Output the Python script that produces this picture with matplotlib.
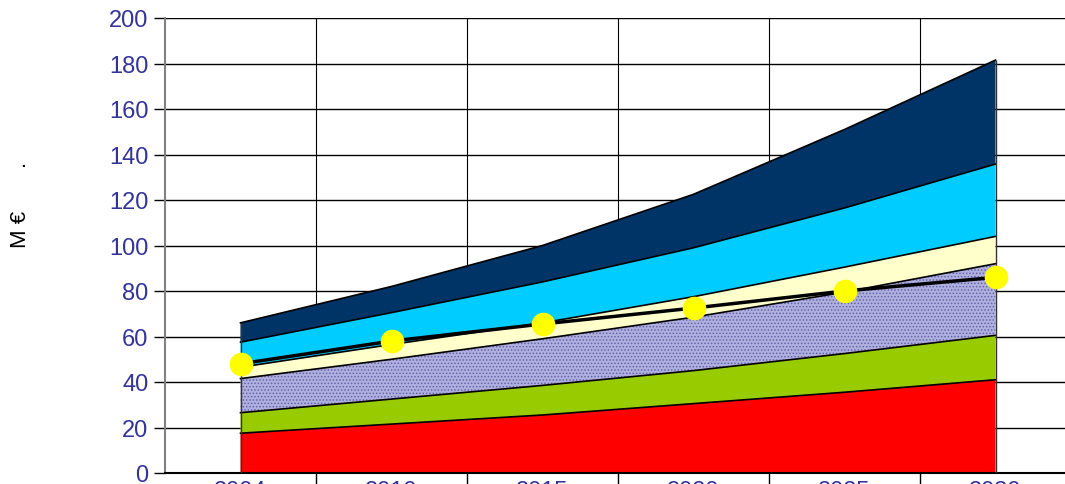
import numpy as np
import matplotlib.pyplot as plt
from matplotlib.ticker import FixedLocator

years = ["2004", "2010", "2015", "2020", "2025", "2030"]

# cumulative tops of each stacked layer (M €)
red_top = [17.5, 21.5, 25.5, 30.5, 35.5, 41]
green_top = [26.5, 32.5, 38.5, 45, 52.5, 60.5]
hatch_top = [41.5, 50, 59, 68.5, 79.5, 92]
cream_top = [46.5, 56.5, 66, 77.5, 90.5, 104]
cyan_top = [57.5, 70.5, 84, 99, 116.5, 135.8]
navy_top = [66, 82, 100, 122.5, 151, 181.5]

line_vals = [48, 58, 65.5, 72.5, 80, 86]

plt.rcParams['font.family'] = ['Liberation Sans', 'DejaVu Sans']
plt.rcParams['hatch.color'] = '#6464a4'
plt.rcParams['hatch.linewidth'] = 0.7
fig = plt.figure(figsize=(10.65, 4.85), dpi=100)
ax = fig.add_axes([165 / 1065, 11 / 485, 906 / 1065, 455 / 485])

x = np.arange(len(years))
layers = [
    (np.zeros(len(years)), red_top, '#ff0000', None),
    (red_top, green_top, '#99cc00', None),
    (green_top, hatch_top, '#b0b0e0', '.....'),
    (hatch_top, cream_top, '#ffffcc', None),
    (cream_top, cyan_top, '#00ccff', None),
    (cyan_top, navy_top, '#003366', None),
]
for lo, hi, col, hatch in layers:
    if hatch:
        ax.fill_between(x, lo, hi, facecolor=col, hatch=hatch, edgecolor='#6464a4', linewidth=0, zorder=2)
    else:
        ax.fill_between(x, lo, hi, facecolor=col, linewidth=0, zorder=2)
    ax.plot(x, hi, color='black', lw=1.2, zorder=3)
ax.vlines([x[0], x[-1]], 0, [navy_top[0], navy_top[-1]], color='#333333', lw=1, zorder=3)

ax.plot(x, line_vals, color='black', lw=2.5, zorder=4)
ax.plot(x, line_vals, 'o', color='#ffff00', ms=16, mec='#ffff00', zorder=5)

ax.set_xlim(-0.5, 5.5)
ax.set_ylim(0, 200)
ax.set_yticks(np.arange(0, 201, 20))
ax.yaxis.grid(True, color='black', lw=1)
ax.set_xticks(x)
ax.set_xticklabels(years)
ax.xaxis.set_minor_locator(FixedLocator(np.arange(0.5, 5.5, 1)))
ax.xaxis.grid(True, which='minor', color='black', lw=0.8)
ax.set_axisbelow(True)
ax.tick_params(axis='y', colors='black', labelcolor='#333399', labelsize=17, length=8, width=1, pad=4)
ax.tick_params(axis='x', which='major', length=0, labelsize=17, labelcolor='#333399', pad=5)
ax.tick_params(axis='x', which='minor', length=8, width=1, color='black')
for s in ['top', 'right']:
    ax.spines[s].set_visible(False)
ax.spines['left'].set_color('#808080')
ax.spines['left'].set_linewidth(1.5)
ax.spines['bottom'].set_linewidth(1.5)

fig.text(21 / 1065, 1 - 205 / 485, "M €       .", rotation=90, fontsize=16, ha='center', va='center')

fig.savefig('out.png', dpi=100)
